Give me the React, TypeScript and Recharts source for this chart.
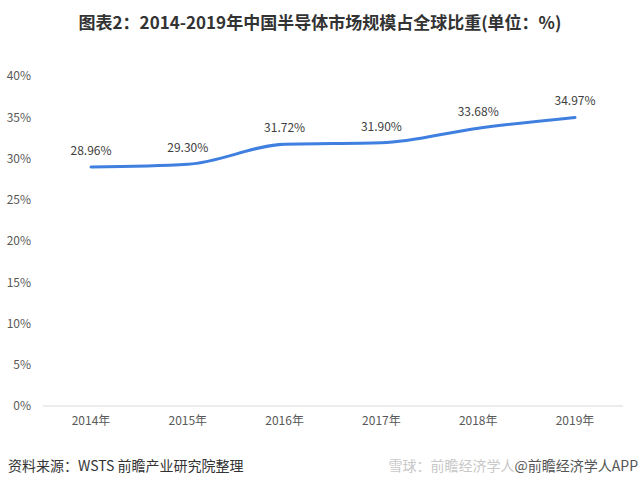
import React from 'react'
import { LineChart, Line, XAxis, YAxis, LabelList } from 'recharts'

const years = ['2014年', '2015年', '2016年', '2017年', '2018年', '2019年']
const shares = [28.96, 29.3, 31.72, 31.9, 33.68, 34.97]
const yTicks = [0, 5, 10, 15, 20, 25, 30, 35, 40]

const data = years.map((year, i) => ({ year, share: shares[i] }))

const font = '"Noto Sans CJK SC", "Noto Sans", sans-serif'

export default function App() {
  return (
    <div
      style={{
        position: 'absolute',
        left: 0,
        top: 0,
        width: 640,
        height: 488,
        background: '#fff',
        fontFamily: font,
        overflow: 'hidden'
      }}
    >
      <div
        style={{
          position: 'absolute',
          top: 9,
          left: 0,
          width: 640,
          textAlign: 'center',
          fontSize: 17,
          fontWeight: 'bold',
          color: '#333'
        }}
      >
        图表2：2014-2019年中国半导体市场规模占全球比重(单位：%)
      </div>

      <div style={{ position: 'absolute', left: 0, top: 0 }}>
        <LineChart
          width={640}
          height={488}
          data={data}
          margin={{ top: 76, right: 17, bottom: 52, left: 8 }}
        >
          <XAxis
            dataKey="year"
            padding={{ left: 48, right: 48 }}
            axisLine={{ stroke: '#d9d9d9' }}
            tickLine={false}
            tickMargin={4}
            tick={{ fontSize: 12, fill: '#595959', fontFamily: font }}
          />
          <YAxis
            width={35}
            domain={[0, 40]}
            ticks={yTicks}
            tickFormatter={(v) => `${v}%`}
            axisLine={false}
            tickLine={false}
            tickMargin={6}
            tick={{ fontSize: 12, fill: '#595959', fontFamily: font }}
          />
          <Line
            type="monotone"
            dataKey="share"
            stroke="#3f7fe0"
            strokeWidth={3}
            strokeLinecap="round"
            dot={false}
            isAnimationActive={false}
          >
            <LabelList
              dataKey="share"
              position="top"
              offset={12}
              formatter={(v: number) => `${v.toFixed(2)}%`}
              style={{ fontSize: 12, fill: '#404040', fontFamily: font }}
            />
          </Line>
        </LineChart>
      </div>

      <div
        style={{
          position: 'absolute',
          left: 8,
          top: 455,
          fontSize: 14,
          color: '#333'
        }}
      >
        资料来源：WSTS 前瞻产业研究院整理
      </div>
      <div
        style={{
          position: 'absolute',
          right: 2,
          top: 455,
          fontSize: 14,
          color: '#555'
        }}
      >
        <span style={{ color: '#c8c8c8' }}>雪球：前瞻经济学人</span>
        <span>@前瞻经济学人APP</span>
      </div>
    </div>
  )
}
